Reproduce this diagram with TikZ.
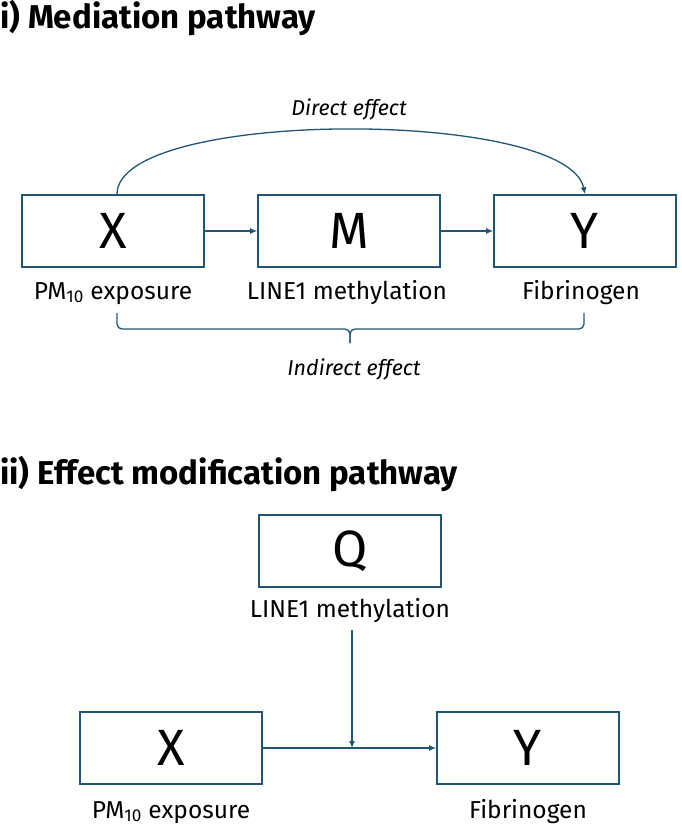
\documentclass[tikz,border=0pt]{standalone}
\usepackage{fontspec}
\setmainfont{Fira Sans}
\usetikzlibrary{arrows.meta}
\definecolor{pathblue}{RGB}{31,86,118}
\begin{document}
\begin{tikzpicture}[x=1pt,y=-1pt,
  var/.style={draw=pathblue,line width=1.6pt,minimum width=182pt,minimum height=72pt,inner sep=0pt,font=\fontsize{51}{51}\selectfont},
  lab/.style={anchor=base,inner sep=0pt,font=\fontsize{24.5}{24.5}\selectfont},
  eff/.style={anchor=base,inner sep=0pt,font=\fontsize{21.5}{21.5}\selectfont\itshape},
  ttl/.style={anchor=base west,inner sep=0pt,font=\fontsize{33}{33}\selectfont\bfseries},
  link/.style={draw=pathblue,line width=1.3pt,-{Latex[length=7pt,width=6pt]}},
  brc/.style={draw=pathblue,line width=1.3pt,rounded corners=5pt}]
\useasboundingbox (0,0) rectangle (682,828);
% i) mediation
\node[ttl] (t1) at (0,28) {i) Mediation pathway};
\node[var] (x1) at (113,231) {X};
\node[var] (m1) at (349,231) {M};
\node[var] (y1) at (585,231) {Y};
\node[lab] (lx1) at (113,299) {PM\textsubscript{10} exposure};
\node[lab] (lm1) at (347,299) {LINE1 methylation};
\node[lab] (ly1) at (581,299) {Fibrinogen};
\draw[link] (x1) -- (m1);
\draw[link] (m1) -- (y1);
\draw[link] ([xshift=4pt]x1.north) .. controls +(0,-86) and +(-18,-86) .. (y1.north);
\node[eff] (de) at (349,115) {Direct effect};
% brace under the labels
\draw[brc] (117,313) -- (117,329) -- (350,329) -- (350,343);
\draw[brc] (584,313) -- (584,329) -- (350,329) -- (350,343);
\node[eff] (ie) at (354,375) {Indirect effect};
% ii) effect modification
\node[ttl] (t2) at (0,484) {ii) Effect modification pathway};
\node[var] (q2) at (350,551) {Q};
\node[lab] (lq2) at (350,617) {LINE1 methylation};
\node[var] (x2) at (171,748) {X};
\node[var] (y2) at (528,748) {Y};
\node[lab] (lx2) at (171,818) {PM\textsubscript{10} exposure};
\node[lab] (ly2) at (528,818) {Fibrinogen};
\draw[link] (x2) -- (y2);
\draw[link] (352,630) -- (352,748);
\end{tikzpicture}
\end{document}
